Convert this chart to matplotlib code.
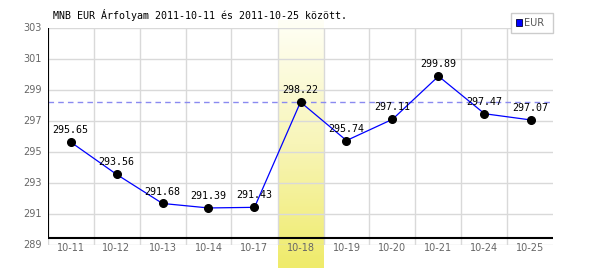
import matplotlib
matplotlib.use("Agg")
import matplotlib.pyplot as plt
import numpy as np
from matplotlib.patches import Rectangle
from matplotlib.colors import LinearSegmentedColormap

dates = ["10-11", "10-12", "10-13", "10-14", "10-17", "10-18",
         "10-19", "10-20", "10-21", "10-24", "10-25"]
values = [295.65, 293.56, 291.68, 291.39, 291.43, 298.22,
          295.74, 297.11, 299.89, 297.47, 297.07]
y_ticks = [289, 291, 293, 295, 297, 299, 301, 303]
highlight_index = 5
title = "MNB EUR Árfolyam 2011-10-11 és 2011-10-25 között."
series_name = "EUR"

W, H = 600, 270
fig = plt.figure(figsize=(W / 100, H / 100), dpi=100)
fig.patch.set_facecolor("white")

def fx(px):
    return px / W

def fy(py):
    return 1 - py / H

ax = fig.add_axes([fx(47.5), fy(245), fx(553.5) - fx(47.5), fy(28) - fy(245)])
ax.set_facecolor("none")
n = len(dates)
x = np.arange(n)

for s in ax.spines.values():
    s.set_visible(False)
ax.set_xticks([])
ax.set_yticks([])

grid_c = "#d9d9d9"
for yt in y_ticks:
    ax.axhline(yt, color=grid_c, lw=1, zorder=1)
for i in range(n + 1):
    ax.axvline(i - 0.5, color=grid_c, lw=1, zorder=1)

# highlight band gradient (white at top, yellow at bottom)
cmap = LinearSegmentedColormap.from_list("band", ["#fffff6", "#f8f5b8", "#efeb6a"])
grad = np.linspace(0, 1, 256).reshape(-1, 1)
y_top = 303 + (28 - 20) / 15.5
y_bot = 303 - (268 - 28) / 15.5
ax.imshow(grad, extent=(highlight_index - 0.5, highlight_index + 0.5, y_bot, y_top),
          origin="upper", cmap=cmap, aspect="auto", zorder=0.5, clip_on=False)
ax.set_xlim(-0.5, n - 0.5)
ax.set_ylim(289, 303)

# axis lines
y_axis_line = 289.45
ax.plot([-0.5, n - 0.5], [y_axis_line, y_axis_line], color="black", lw=1.5, zorder=3,
        solid_capstyle="butt")
ax.plot([-0.5, -0.5], [y_axis_line, 303], color="black", lw=1.5, zorder=3,
        solid_capstyle="butt")

# dashed reference line
ax.axhline(values[highlight_index], color="#8a8af0", lw=1, ls=(0, (4, 3)), zorder=2)

ax.plot(x, values, color="#0000ff", lw=0.9, zorder=4)
ax.plot(x, values, "o", color="black", ms=5.5, zorder=5)

mono = "DejaVu Sans Mono"
for xi, v in zip(x, values):
    ax.annotate(f"{v:.2f}", (xi, v), xytext=(0, 5), textcoords="offset points",
                ha="center", va="bottom", fontsize=7.2, family=mono, color="black", zorder=6)

for yt in y_ticks:
    ax.annotate(str(yt), (-0.5, yt), xytext=(-4, 0), textcoords="offset points",
                ha="right", va="center", fontsize=7, color="#666666", annotation_clip=False)
for xi, d in zip(x, dates):
    ax.annotate(d, (xi, 289), xytext=(0, -2.5), textcoords="offset points",
                ha="center", va="center", fontsize=7, color="#666666", annotation_clip=False)

fig.text(fx(53), fy(15), title, ha="left", va="center", fontsize=7.2, family=mono, color="black")

# legend
fig.patches.append(Rectangle((fx(511), fy(33)), fx(42), fy(13) - fy(33), transform=fig.transFigure,
                             facecolor="white", edgecolor="#cccccc", lw=1, zorder=10))
fig.patches.append(Rectangle((fx(515.5), fy(25.5)), fx(6), fy(19.5) - fy(25.5), transform=fig.transFigure,
                             facecolor="#0000ff", edgecolor="#000033", lw=0.6, zorder=11))
fig.text(fx(524), fy(23), series_name, ha="left", va="center", fontsize=7, color="#555555", zorder=12)

fig.savefig("out.png", dpi=100)
